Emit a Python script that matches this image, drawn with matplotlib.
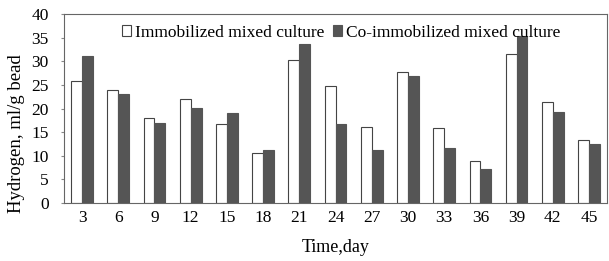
import numpy as np
import matplotlib.pyplot as plt

days = ["3", "6", "9", "12", "15", "18", "21", "24", "27", "30", "33", "36", "39", "42", "45"]
immobilized = [25.8, 23.9, 18.1, 22.1, 16.7, 10.6, 30.3, 24.8, 16.2, 27.8, 15.9, 8.8, 31.5, 21.4, 13.3]
co_immobilized = [31.2, 23.0, 17.0, 20.1, 19.0, 11.3, 33.7, 16.8, 11.3, 27.0, 11.6, 7.3, 35.3, 19.3, 12.4]

plt.rcParams['font.family'] = ['Liberation Serif', 'DejaVu Serif']
plt.rcParams['font.size'] = 12.5

x = np.arange(len(days))
w = 0.3
fig, ax = plt.subplots(figsize=(6.09, 2.61), dpi=100)
fig.subplots_adjust(left=0.105, right=0.997, top=0.946, bottom=0.222)

ax.bar(x - w/2, immobilized, width=w, color='white', edgecolor='#444444', linewidth=0.8,
       label='Immobilized mixed culture')
ax.bar(x + w/2, co_immobilized, width=w, color='#555555', edgecolor='#555555', linewidth=0.8,
       label='Co-immobilized mixed culture')

ax.set_xlim(-0.5, len(days) - 0.5)
ax.set_ylim(0, 40)
ax.set_yticks(range(0, 41, 5))
ax.set_xticks(x)
ax.set_xticklabels(days)
ax.tick_params(axis='x', length=0, pad=5)
ax.tick_params(axis='y', length=2, pad=9, color='#888888')
for s in ax.spines.values():
    s.set_color('#666666')
    s.set_linewidth(0.8)

ax.set_xlabel('Time,day', fontsize=13, labelpad=9)
ax.set_ylabel('Hydrogen, ml/g bead', fontsize=13.5)
ax.yaxis.set_label_coords(-0.072, 0.37)

ax.legend(loc='upper center', bbox_to_anchor=(0.51, 1.0), ncol=2, frameon=False,
          handlelength=0.55, handleheight=0.55, handletextpad=0.2, columnspacing=0.5,
          borderaxespad=0.2, fontsize=12.5)

plt.savefig("out.png", dpi=100)
